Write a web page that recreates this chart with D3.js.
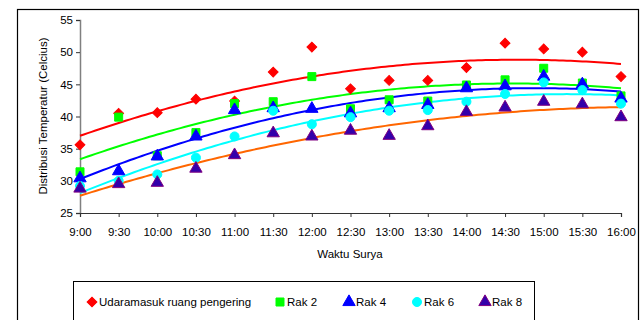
<!DOCTYPE html>
<html>
<head>
<meta charset="utf-8">
<script src="https://d3js.org/d3.v7.min.js"></script>
<style>
  body { margin: 0; background: #fff; }
  text { font-family: "Liberation Sans", Arial, sans-serif; fill: #000; }
</style>
</head>
<body>
<div id="chart"></div>
<script>

// data
const times = ["9:00","9:30","10:00","10:30","11:00","11:30","12:00","12:30","13:00","13:30","14:00","14:30","15:00","15:30","16:00"];
const udara = [35.6, 40.5, 40.6, 42.7, 42.4, 46.9, 50.8, 44.3, 45.6, 45.6, 47.6, 51.4, 50.5, 50.0, 46.2];
const rak2  = [31.4, 39.9, 33.9, 37.5, 42.0, 42.3, 46.2, 41.2, 42.6, 42.4, 44.9, 45.7, 47.5, 45.2, 43.2];
const rak4  = [30.4, 31.5, 33.8, 36.9, 41.0, 41.3, 41.2, 40.5, 41.3, 41.8, 44.4, 44.7, 46.2, 45.0, 42.8];
const rak6  = [29.2, 30.0, 31.0, 33.6, 36.9, 40.9, 38.8, 39.9, 40.9, 41.0, 42.3, 43.5, 45.3, 44.1, 42.0];
const rak8  = [28.8, 29.5, 29.7, 31.9, 34.0, 37.4, 36.9, 37.8, 37.0, 38.5, 40.7, 41.4, 42.3, 41.9, 39.9];
const yTicks = [25, 30, 35, 40, 45, 50, 55];

const series = [
  {name: "Udaramasuk ruang pengering", values: udara, shape: "diamond",  fill: "#ff0000", stroke: "#ff0000", trend: "#ff0000"},
  {name: "Rak 2", values: rak2, shape: "square",   fill: "#00ff00", stroke: "#00ff00", trend: "#00ff00"},
  {name: "Rak 4", values: rak4, shape: "triangle", fill: "#0000ff", stroke: "#0000ff", trend: "#0000ff"},
  {name: "Rak 6", values: rak6, shape: "circle",   fill: "#00ffff", stroke: "#00ffff", trend: "#00ffff"},
  {name: "Rak 8", values: rak8, shape: "triangle", fill: "#3300aa", stroke: "#800080", trend: "#ff6600"}
];

const W = 643, H = 320;
const svg = d3.select("#chart").append("svg").attr("width", W).attr("height", H);

// outer chart frame
svg.append("rect").attr("x", 17.5).attr("y", 9.5).attr("width", 621).attr("height", 330)
  .attr("fill", "none").attr("stroke", "#000").attr("stroke-width", 1.2);

const x = d3.scalePoint().domain(times).range([80, 621]);
const xi = d3.scaleLinear().domain([0, times.length - 1]).range([80, 621]);
const y = d3.scaleLinear().domain([25, 55]).range([213, 20]);

// y axis
const gy = svg.append("g").attr("transform", "translate(80,0)")
  .call(d3.axisLeft(y).tickValues(yTicks).tickSize(4).tickPadding(3));
gy.select(".domain").attr("stroke", "#808080").attr("stroke-width", 1.5);
gy.selectAll(".tick line").attr("stroke", "#333");
gy.selectAll("text").style("font-size", "11.5px").attr("fill", "#000");

// x axis
const gx = svg.append("g").attr("transform", "translate(0,213)")
  .call(d3.axisBottom(x).tickSize(4).tickPadding(11));
gx.select(".domain").attr("stroke", "#333").attr("stroke-width", 1.2);
gx.selectAll(".tick line").attr("stroke", "#333");
gx.selectAll("text").style("font-size", "11.5px").attr("fill", "#000");

svg.append("text").attr("x", 350).attr("y", 258).attr("text-anchor", "middle")
  .style("font-size", "11.5px").text("Waktu Surya");
svg.append("text").attr("transform", "translate(47,116) rotate(-90)").attr("text-anchor", "middle")
  .style("font-size", "11.5px").text("Distribusi Temperatur (Celcius)");

// quadratic least-squares trend (like Excel polynomial order 2)
function polyFit(vals) {
  let s = [0,0,0,0,0], t = [0,0,0];
  vals.forEach((v, i) => {
    for (let k = 0; k < 5; k++) s[k] += Math.pow(i, k);
    for (let k = 0; k < 3; k++) t[k] += v * Math.pow(i, k);
  });
  const A = [[s[0], s[1], s[2], t[0]], [s[1], s[2], s[3], t[1]], [s[2], s[3], s[4], t[2]]];
  for (let c = 0; c < 3; c++) {
    for (let r = c + 1; r < 3; r++) {
      const f = A[r][c] / A[c][c];
      for (let k = c; k < 4; k++) A[r][k] -= f * A[c][k];
    }
  }
  const co = [0,0,0];
  for (let r = 2; r >= 0; r--) {
    let v = A[r][3];
    for (let k = r + 1; k < 3; k++) v -= A[r][k] * co[k];
    co[r] = v / A[r][r];
  }
  return i => co[0] + co[1] * i + co[2] * i * i;
}

const line = d3.line().x(d => xi(d[0])).y(d => y(d[1]));
series.forEach(s => {
  const f = polyFit(s.values);
  const pts = d3.range(0, times.length - 1 + 0.001, 0.1).map(i => [i, f(i)]);
  svg.append("path").attr("d", line(pts)).attr("fill", "none")
    .attr("stroke", s.trend).attr("stroke-width", 2);
});

const sym = {
  diamond: d3.symbol().type(d3.symbolSquare).size(48),
  square: d3.symbol().type(d3.symbolSquare).size(64),
  triangle: d3.symbol().type(d3.symbolTriangle).size(66),
  circle: d3.symbol().type(d3.symbolCircle).size(64)
};

function marker(g, s, cx, cy) {
  return g.append("path").attr("d", sym[s.shape]())
    .attr("fill", s.fill).attr("stroke", s.stroke).attr("stroke-width", 1)
    .attr("transform", `translate(${cx},${cy})` + (s.shape === "diamond" ? " rotate(45)" : ""));
}

series.forEach(s => {
  const g = svg.append("g");
  s.values.forEach((v, i) => marker(g, s, x(times[i]), y(v)));
});

// legend
svg.append("rect").attr("x", 73.5).attr("y", 281.5).attr("width", 461).attr("height", 60)
  .attr("fill", "#fff").attr("stroke", "#000").attr("stroke-width", 1);
const legX = [92, 280, 349, 417, 485];
const lg = svg.append("g");
series.forEach((s, i) => {
  marker(lg, s, legX[i], 302);
  lg.append("text").attr("x", legX[i] + 7).attr("y", 306).style("font-size", "11.5px").text(s.name);
});

</script>
</body>
</html>
